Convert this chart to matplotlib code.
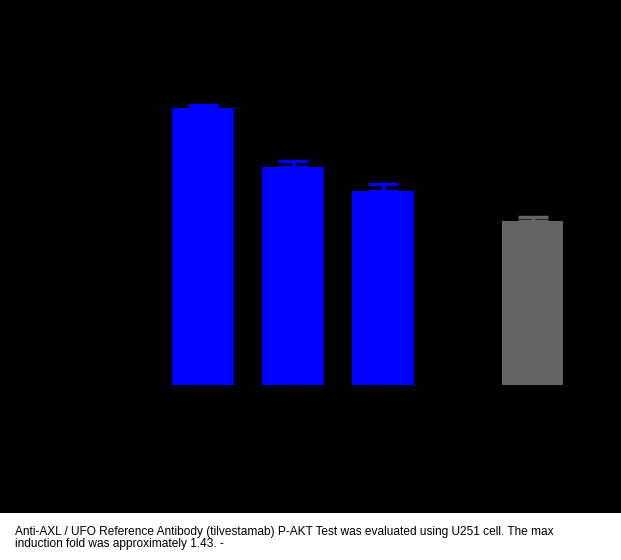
import matplotlib
matplotlib.use("Agg")
import matplotlib.pyplot as plt

# bar data (fold induction)
positions = [0, 1, 2, 3.667]
values = [1.43, 1.127, 1.004, 0.848]
errors = [0.017, 0.033, 0.036, 0.019]
colors = ["#0000ff", "#0000ff", "#0000ff", "#646464"]

caption = ("Anti-AXL / UFO Reference Antibody (tilvestamab) P-AKT Test was evaluated using U251 cell. The max\n"
           "induction fold was approximately 1.43. -")

W, H = 621, 560
fig = plt.figure(figsize=(W / 100, H / 100), dpi=100, facecolor="white")

black_h = 513
ax = fig.add_axes([0, 1 - black_h / H, 1, black_h / H])
ax.set_facecolor("black")

px_per_unit_x = 90.0
px_per_unit_y = 193.5
x0 = 202.5
base = black_h - 385
ax.set_xlim(-x0 / px_per_unit_x, (W - x0) / px_per_unit_x)
ax.set_ylim(-base / px_per_unit_y, (black_h - base) / px_per_unit_y)

for p, v, e, c in zip(positions, values, errors, colors):
    ax.bar(p, v, width=61 / px_per_unit_x, color=c, zorder=2)
    ax.errorbar(p, v, yerr=[[0], [e]], fmt="none", ecolor=c, elinewidth=2.5,
                capsize=10.8, capthick=2.5, zorder=1)

for s in ax.spines.values():
    s.set_visible(False)
ax.set_xticks([])
ax.set_yticks([])

fig.text(15 / W, 1 - 526 / H, caption, ha="left", va="top", fontsize=8.6,
         family="Liberation Sans", color="black", linespacing=0.98)

fig.savefig("out.png", dpi=100, facecolor="white")
